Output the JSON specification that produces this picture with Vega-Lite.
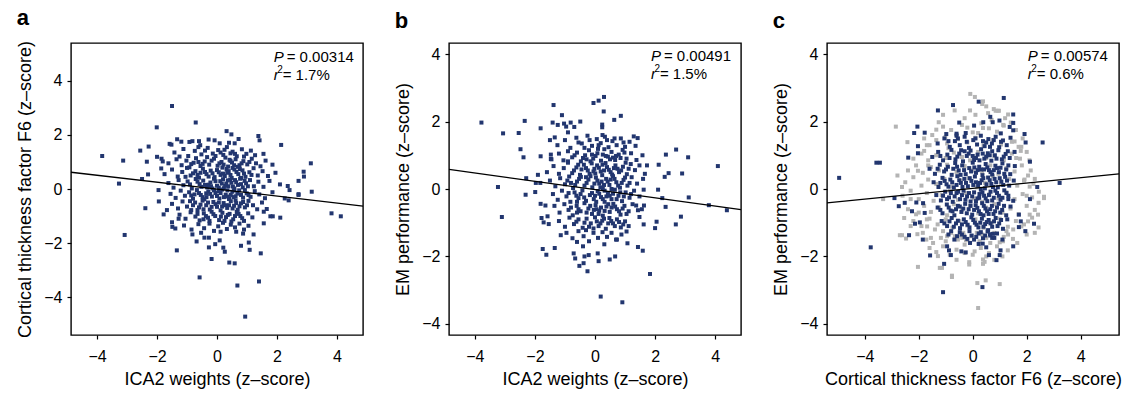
{
"$schema": "https://vega.github.io/schema/vega-lite/v6.json",
"background": "white",
"padding": {"left": 16, "top": 6, "right": 2, "bottom": 4},
"bounds": "flush",
"spacing": 86,
"config": {
  "font": "Liberation Sans",
  "view": {"stroke": "black", "strokeWidth": 1.4},
  "axis": {"domain": false, "grid": false, "tickColor": "black", "tickSize": 4, "tickWidth": 1.2, "labelFontSize": 16, "labelColor": "black", "labelFont": "Liberation Sans", "titleFontSize": 18, "titleFontWeight": "normal", "titleColor": "black", "titleFont": "Liberation Sans"},
  "axisX": {"labelPadding": 9, "titlePadding": 6},
  "axisY": {"labelPadding": 5, "titlePadding": 9},
  "title": {"fontSize": 22, "fontWeight": "bold", "anchor": "start", "frame": "bounds", "color": "black", "font": "Liberation Sans", "offset": 10},
  "text": {"font": "Liberation Sans", "fontSize": 15, "color": "black", "align": "left", "baseline": "alphabetic"}
},
"datasets": {
  "a": [
{"x":-1.5,"y":3.07},{"x":-0.71,"y":2.46},{"x":-2.01,"y":2.28},{"x":0.32,"y":2.14},{"x":0.48,"y":2.02},{"x":1.38,"y":1.96},{"x":1.42,"y":1.8},{"x":2.14,"y":1.63},{"x":-3.83,"y":1.22},{"x":-3.13,"y":1.05},{"x":-2.56,"y":1.42},{"x":-2.28,"y":1.57},{"x":-1.58,"y":1.67},{"x":-1.52,"y":1.64},{"x":-1.33,"y":1.84},{"x":-1.19,"y":1.75},{"x":-0.92,"y":1.74},{"x":-0.82,"y":1.77},{"x":-0.6,"y":1.77},{"x":-0.56,"y":1.62},{"x":-0.28,"y":1.83},{"x":-0.08,"y":1.8},{"x":0.09,"y":1.69},{"x":0.4,"y":1.71},{"x":0.59,"y":1.69},{"x":0.72,"y":1.85},{"x":3.13,"y":0.95},{"x":2.89,"y":0.64},{"x":2.9,"y":0.46},{"x":2.72,"y":0.3},{"x":2.1,"y":0.17},{"x":2.36,"y":0.11},{"x":2.42,"y":-0.04},{"x":2.72,"y":-0.19},{"x":3.16,"y":-0.1},{"x":-3.27,"y":0.2},{"x":-2.5,"y":0.37},{"x":-2.3,"y":0.54},{"x":-2.34,"y":1.01},{"x":-2.0,"y":1.19},{"x":-1.85,"y":1.12},{"x":-1.81,"y":1.02},{"x":-1.86,"y":0.76},{"x":-1.95,"y":-0.04},
{"x":-3.08,"y":-1.7},{"x":-2.39,"y":-0.71},{"x":-1.94,"y":-0.46},{"x":-1.78,"y":-0.94},{"x":-1.67,"y":-0.78},{"x":-1.5,"y":-1.23},{"x":-1.49,"y":-1.4},{"x":-1.39,"y":-1.46},{"x":-1.28,"y":-1.1},{"x":-1.34,"y":-2.27},{"x":-0.82,"y":-1.68},{"x":-0.68,"y":-1.94},{"x":-0.58,"y":-3.27},{"x":-0.27,"y":-2.16},{"x":-0.18,"y":-2.59},{"x":-0.06,"y":-2.04},{"x":0.09,"y":-1.9},{"x":0.26,"y":-2.32},{"x":0.21,"y":-2.17},{"x":0.41,"y":-2.72},{"x":0.59,"y":-2.75},{"x":0.68,"y":-3.57},{"x":0.94,"y":-4.72},{"x":1.4,"y":-3.42},{"x":1.46,"y":-2.38},{"x":1.09,"y":-2.25},{"x":1.06,"y":-1.98},{"x":0.8,"y":-2.1},{"x":1.22,"y":-1.68},{"x":1.56,"y":-1.27},{"x":1.56,"y":-0.84},{"x":1.66,"y":-0.74},{"x":1.78,"y":-1.01},{"x":1.86,"y":-1.01},{"x":2.11,"y":-1.06},{"x":2.39,"y":-0.42},{"x":2.26,"y":-0.35},{"x":2.72,"y":-0.22},{"x":3.82,"y":-0.9},{"x":4.13,"y":-1.01},{"x":0.64,"y":-1.58},{"x":0.87,"y":-1.65},{"x":-0.42,"y":-1.8},{"x":-0.27,"y":-1.8},{"x":-0.53,"y":-1.62},
{"x":-1.42,"y":1.35},{"x":-1.12,"y":1.48},{"x":-0.96,"y":1.22},{"x":-0.74,"y":1.41},{"x":-0.52,"y":1.28},{"x":-0.31,"y":1.52},{"x":-0.14,"y":1.31},{"x":0.04,"y":1.44},{"x":0.21,"y":1.26},{"x":0.33,"y":1.55},{"x":0.52,"y":1.38},{"x":0.66,"y":1.21},{"x":0.83,"y":1.47},{"x":0.98,"y":1.3},{"x":1.13,"y":1.42},{"x":1.27,"y":1.25},{"x":0.45,"y":1.32},{"x":-0.62,"y":1.55},{"x":1.55,"y":1.3},{"x":-1.25,"y":1.2},
{"x":-1.62,"y":0.95},{"x":-1.35,"y":1.1},{"x":-1.18,"y":0.88},{"x":-1.02,"y":1.05},{"x":-0.86,"y":0.92},{"x":-0.7,"y":1.14},{"x":-0.55,"y":0.85},{"x":-0.41,"y":1.02},{"x":-0.26,"y":0.9},{"x":-0.1,"y":1.12},{"x":0.02,"y":0.86},{"x":0.15,"y":1.0},{"x":0.28,"y":1.16},{"x":0.37,"y":0.83},{"x":0.5,"y":0.98},{"x":0.62,"y":1.1},{"x":0.75,"y":0.88},{"x":0.88,"y":1.03},{"x":1.01,"y":0.91},{"x":1.16,"y":1.12},{"x":1.3,"y":0.95},{"x":1.45,"y":0.84},{"x":1.62,"y":1.05},{"x":1.85,"y":0.9},{"x":-0.33,"y":1.18},{"x":0.7,"y":0.82},{"x":0.42,"y":1.08},{"x":-0.92,"y":0.8},
{"x":-1.75,"y":0.55},{"x":-1.5,"y":0.72},{"x":-1.31,"y":0.46},{"x":-1.16,"y":0.63},{"x":-1.0,"y":0.78},{"x":-0.88,"y":0.5},{"x":-0.72,"y":0.66},{"x":-0.6,"y":0.42},{"x":-0.47,"y":0.75},{"x":-0.35,"y":0.55},{"x":-0.21,"y":0.68},{"x":-0.08,"y":0.44},{"x":0.06,"y":0.62},{"x":0.18,"y":0.79},{"x":0.26,"y":0.48},{"x":0.39,"y":0.66},{"x":0.49,"y":0.41},{"x":0.58,"y":0.72},{"x":0.71,"y":0.55},{"x":0.85,"y":0.69},{"x":0.95,"y":0.45},{"x":1.08,"y":0.62},{"x":1.22,"y":0.77},{"x":1.36,"y":0.5},{"x":1.52,"y":0.66},{"x":1.7,"y":0.48},{"x":0.12,"y":0.52},{"x":-0.55,"y":0.6},{"x":0.32,"y":0.74},{"x":0.8,"y":0.41},{"x":-1.05,"y":0.45},{"x":1.95,"y":0.6},
{"x":-1.62,"y":0.22},{"x":-1.45,"y":0.05},{"x":-1.28,"y":0.33},{"x":-1.12,"y":0.14},{"x":-0.98,"y":0.28},{"x":-0.84,"y":0.02},{"x":-0.71,"y":0.37},{"x":-0.58,"y":0.18},{"x":-0.46,"y":0.31},{"x":-0.33,"y":0.06},{"x":-0.22,"y":0.24},{"x":-0.1,"y":0.38},{"x":0.0,"y":0.12},{"x":0.11,"y":0.29},{"x":0.23,"y":0.03},{"x":0.31,"y":0.2},{"x":0.44,"y":0.35},{"x":0.53,"y":0.09},{"x":0.64,"y":0.25},{"x":0.77,"y":0.38},{"x":0.86,"y":0.06},{"x":0.97,"y":0.21},{"x":1.1,"y":0.33},{"x":1.23,"y":0.1},{"x":1.38,"y":0.27},{"x":1.55,"y":0.08},{"x":1.75,"y":0.3},{"x":0.38,"y":0.1},{"x":-0.15,"y":0.02},{"x":0.7,"y":0.15},{"x":-0.4,"y":0.15},{"x":0.2,"y":0.36},
{"x":-1.55,"y":-0.18},{"x":-1.38,"y":-0.33},{"x":-1.21,"y":-0.06},{"x":-1.07,"y":-0.25},{"x":-0.93,"y":-0.12},{"x":-0.8,"y":-0.36},{"x":-0.67,"y":-0.04},{"x":-0.54,"y":-0.22},{"x":-0.42,"y":-0.38},{"x":-0.29,"y":-0.09},{"x":-0.17,"y":-0.28},{"x":-0.05,"y":-0.15},{"x":0.08,"y":-0.35},{"x":0.17,"y":-0.02},{"x":0.29,"y":-0.21},{"x":0.4,"y":-0.37},{"x":0.51,"y":-0.1},{"x":0.62,"y":-0.27},{"x":0.74,"y":-0.05},{"x":0.87,"y":-0.32},{"x":0.99,"y":-0.16},{"x":1.12,"y":-0.29},{"x":1.26,"y":-0.08},{"x":1.41,"y":-0.2},{"x":1.6,"y":-0.34},{"x":1.85,"y":-0.12},{"x":0.35,"y":-0.05},{"x":-0.75,"y":-0.2},{"x":0.05,"y":-0.08},{"x":-0.35,"y":-0.3},{"x":0.55,"y":-0.3},
{"x":-1.5,"y":-0.55},{"x":-1.3,"y":-0.72},{"x":-1.15,"y":-0.46},{"x":-1.0,"y":-0.65},{"x":-0.86,"y":-0.78},{"x":-0.73,"y":-0.5},{"x":-0.6,"y":-0.68},{"x":-0.48,"y":-0.43},{"x":-0.36,"y":-0.6},{"x":-0.24,"y":-0.76},{"x":-0.12,"y":-0.48},{"x":0.0,"y":-0.66},{"x":0.12,"y":-0.79},{"x":0.22,"y":-0.52},{"x":0.34,"y":-0.7},{"x":0.46,"y":-0.45},{"x":0.57,"y":-0.62},{"x":0.69,"y":-0.77},{"x":0.8,"y":-0.53},{"x":0.93,"y":-0.68},{"x":1.05,"y":-0.44},{"x":1.2,"y":-0.6},{"x":1.34,"y":-0.75},{"x":1.5,"y":-0.5},{"x":0.28,"y":-0.6},{"x":-0.45,"y":-0.75},{"x":0.62,"y":-0.42},{"x":-0.9,"y":-0.45},
{"x":-1.25,"y":-0.95},{"x":-1.05,"y":-1.1},{"x":-0.88,"y":-0.86},{"x":-0.72,"y":-1.02},{"x":-0.58,"y":-1.16},{"x":-0.44,"y":-0.9},{"x":-0.3,"y":-1.06},{"x":-0.18,"y":-0.84},{"x":-0.06,"y":-1.0},{"x":0.07,"y":-1.15},{"x":0.18,"y":-0.88},{"x":0.3,"y":-1.04},{"x":0.42,"y":-0.92},{"x":0.54,"y":-1.12},{"x":0.66,"y":-0.85},{"x":0.78,"y":-1.0},{"x":0.9,"y":-1.18},{"x":1.04,"y":-0.9},{"x":1.18,"y":-1.05},{"x":0.25,"y":-1.18},{"x":-0.45,"y":-1.12},
{"x":-1.1,"y":-1.35},{"x":-0.85,"y":-1.5},{"x":-0.62,"y":-1.3},{"x":-0.43,"y":-1.45},{"x":-0.25,"y":-1.28},{"x":-0.1,"y":-1.55},{"x":0.04,"y":-1.38},{"x":0.2,"y":-1.25},{"x":0.33,"y":-1.48},{"x":0.46,"y":-1.32},{"x":0.6,"y":-1.42},{"x":0.75,"y":-1.28},{"x":0.9,"y":-1.5},{"x":1.05,"y":-1.36},{"x":0.12,"y":-1.58},
{"x":-0.78,"y":0.97},{"x":-0.48,"y":0.93},{"x":-0.18,"y":1.05},{"x":0.08,"y":0.95},{"x":0.22,"y":0.9},{"x":0.45,"y":1.04},{"x":0.57,"y":0.88},{"x":0.82,"y":0.95},{"x":1.08,"y":1.0},{"x":-0.62,"y":1.0},
{"x":-0.8,"y":0.58},{"x":-0.4,"y":0.63},{"x":-0.28,"y":0.46},{"x":-0.15,"y":0.58},{"x":0.0,"y":0.7},{"x":0.2,"y":0.57},{"x":0.34,"y":0.6},{"x":0.45,"y":0.52},{"x":0.65,"y":0.63},{"x":0.76,"y":0.74},{"x":0.9,"y":0.57},{"x":1.15,"y":0.52},{"x":-0.65,"y":0.52},{"x":0.52,"y":0.78},
{"x":-0.9,"y":0.17},{"x":-0.65,"y":0.27},{"x":-0.52,"y":0.08},{"x":-0.28,"y":0.16},{"x":-0.05,"y":0.29},{"x":0.06,"y":0.05},{"x":0.16,"y":0.2},{"x":0.27,"y":0.12},{"x":0.48,"y":0.23},{"x":0.6,"y":0.33},{"x":0.58,"y":0.02},{"x":0.8,"y":0.18},{"x":0.92,"y":0.3},{"x":1.03,"y":0.1},{"x":-0.2,"y":0.1},{"x":0.36,"y":0.32},
{"x":-0.86,"y":-0.24},{"x":-0.6,"y":-0.15},{"x":-0.48,"y":-0.3},{"x":-0.23,"y":-0.18},{"x":-0.1,"y":-0.05},{"x":0.0,"y":-0.26},{"x":0.12,"y":-0.15},{"x":0.23,"y":-0.3},{"x":0.46,"y":-0.22},{"x":0.57,"y":-0.05},{"x":0.68,"y":-0.17},{"x":0.8,"y":-0.22},{"x":0.93,"y":-0.04},{"x":1.05,"y":-0.22},{"x":0.34,"y":-0.28},{"x":-0.36,"y":-0.16},
{"x":-0.8,"y":-0.6},{"x":-0.55,"y":-0.58},{"x":-0.3,"y":-0.5},{"x":-0.18,"y":-0.66},{"x":-0.05,"y":-0.56},{"x":0.06,"y":-0.5},{"x":0.17,"y":-0.65},{"x":0.4,"y":-0.6},{"x":0.52,"y":-0.72},{"x":0.64,"y":-0.52},{"x":0.75,"y":-0.64},{"x":0.87,"y":-0.48},{"x":1.0,"y":-0.6},{"x":-0.65,"y":-0.78},
{"x":-0.65,"y":-0.92},{"x":-0.37,"y":-1.0},{"x":-0.12,"y":-0.93},{"x":0.13,"y":-1.02},{"x":0.36,"y":-0.96},{"x":0.6,"y":-1.0},{"x":0.72,"y":-0.92},{"x":0.84,"y":-1.08},{"x":0.48,"y":-1.2},{"x":-0.25,"y":-1.18},
{"x":-0.4,"y":1.42},{"x":-0.05,"y":1.22},{"x":0.12,"y":1.35},{"x":0.6,"y":1.3},{"x":0.9,"y":1.2},{"x":0.25,"y":1.45}
  ],
  "b": [
{"x":0.3,"y":2.73},{"x":0.12,"y":2.62},{"x":-0.05,"y":2.55},{"x":-1.38,"y":2.49},{"x":0.29,"y":2.3},{"x":0.86,"y":2.17},{"x":0.64,"y":2.05},{"x":-1.1,"y":2.19},{"x":-3.78,"y":1.97},{"x":-2.34,"y":2.02},{"x":-1.41,"y":1.97},{"x":-1.24,"y":1.9},{"x":-1.03,"y":1.94},{"x":-0.96,"y":1.85},{"x":-0.81,"y":1.97},{"x":-0.49,"y":2.0},{"x":-1.81,"y":1.8},{"x":-3.06,"y":1.65},{"x":-2.54,"y":1.66},{"x":-1.34,"y":1.53},{"x":-0.9,"y":1.68},{"x":-0.69,"y":1.84},{"x":0.24,"y":1.91},{"x":0.24,"y":1.83},{"x":1.29,"y":1.56},{"x":1.42,"y":1.51},{"x":-2.48,"y":1.18},{"x":-2.38,"y":0.94},{"x":-1.81,"y":0.97},{"x":-1.47,"y":1.02},{"x":-1.47,"y":0.89},{"x":2.36,"y":1.02},{"x":2.7,"y":1.17},{"x":3.1,"y":0.94},{"x":4.09,"y":0.68},{"x":2.12,"y":0.72},{"x":1.73,"y":0.7},{"x":2.45,"y":0.47},{"x":2.32,"y":0.36},{"x":2.9,"y":0.46},{"x":-3.23,"y":0.06},{"x":-2.29,"y":0.32},{"x":-1.9,"y":0.42},{"x":-1.97,"y":0.18},{"x":-1.82,"y":0.18},{"x":-2.31,"y":-0.17},{"x":-1.99,"y":-0.09},{"x":2.1,"y":-0.02},{"x":3.12,"y":-0.25},{"x":1.62,"y":-0.02},
{"x":-3.1,"y":-0.83},{"x":-1.81,"y":-0.44},{"x":-1.65,"y":-0.49},{"x":-1.78,"y":-0.86},{"x":-1.58,"y":-0.81},{"x":-1.71,"y":-0.99},{"x":-1.54,"y":-1.04},{"x":-1.14,"y":-1.37},{"x":-1.74,"y":-1.78},{"x":-1.62,"y":-1.95},{"x":-1.34,"y":-1.75},{"x":-0.6,"y":-1.57},{"x":-0.4,"y":-1.7},{"x":-0.71,"y":-1.91},{"x":-0.66,"y":-2.06},{"x":-0.52,"y":-2.28},{"x":-0.38,"y":-2.2},{"x":-0.35,"y":-2.0},{"x":-0.25,"y":-2.44},{"x":-0.21,"y":-1.96},{"x":0.09,"y":-1.91},{"x":0.12,"y":-2.14},{"x":0.49,"y":-2.09},{"x":0.67,"y":-2.0},{"x":0.31,"y":-1.64},{"x":0.73,"y":-1.5},{"x":1.08,"y":-1.61},{"x":1.43,"y":-1.72},{"x":1.59,"y":-1.83},{"x":1.83,"y":-2.52},{"x":0.19,"y":-3.19},{"x":0.91,"y":-3.36},{"x":1.62,"y":-1.05},{"x":2.0,"y":-1.16},{"x":2.05,"y":-0.97},{"x":2.69,"y":-1.05},{"x":2.86,"y":-0.82},{"x":1.48,"y":-0.83},{"x":1.63,"y":-0.49},{"x":1.56,"y":-0.6},{"x":2.24,"y":-0.27},{"x":2.35,"y":-0.53},{"x":3.79,"y":-0.48},{"x":4.39,"y":-0.63},{"x":1.37,"y":-0.49},{"x":1.43,"y":-0.63},
{"x":-1.25,"y":1.3},{"x":-1.0,"y":1.45},{"x":-0.82,"y":1.22},{"x":-0.62,"y":1.52},{"x":-0.44,"y":1.35},{"x":-0.25,"y":1.58},{"x":-0.1,"y":1.28},{"x":0.06,"y":1.48},{"x":0.19,"y":1.36},{"x":0.33,"y":1.55},{"x":0.45,"y":1.24},{"x":0.58,"y":1.42},{"x":0.72,"y":1.3},{"x":0.86,"y":1.5},{"x":1.0,"y":1.25},{"x":1.15,"y":1.4},{"x":-0.35,"y":1.22},{"x":0.25,"y":1.6},{"x":1.35,"y":1.28},{"x":-1.5,"y":1.45},
{"x":-1.45,"y":0.88},{"x":-1.2,"y":1.05},{"x":-1.05,"y":0.85},{"x":-0.9,"y":1.12},{"x":-0.76,"y":0.94},{"x":-0.6,"y":1.08},{"x":-0.47,"y":0.82},{"x":-0.33,"y":1.0},{"x":-0.2,"y":1.15},{"x":-0.06,"y":0.9},{"x":0.08,"y":1.06},{"x":0.2,"y":0.84},{"x":0.31,"y":1.18},{"x":0.43,"y":0.96},{"x":0.55,"y":1.1},{"x":0.67,"y":0.86},{"x":0.79,"y":1.02},{"x":0.92,"y":1.16},{"x":1.05,"y":0.9},{"x":1.2,"y":1.06},{"x":1.38,"y":0.86},{"x":1.58,"y":1.0},{"x":-0.15,"y":0.82},{"x":0.36,"y":0.98},{"x":0.6,"y":0.93},{"x":-0.9,"y":0.82},{"x":0.1,"y":1.19},
{"x":-1.6,"y":0.5},{"x":-1.38,"y":0.68},{"x":-1.2,"y":0.45},{"x":-1.04,"y":0.62},{"x":-0.9,"y":0.78},{"x":-0.76,"y":0.47},{"x":-0.62,"y":0.64},{"x":-0.5,"y":0.42},{"x":-0.37,"y":0.72},{"x":-0.24,"y":0.55},{"x":-0.11,"y":0.76},{"x":0.01,"y":0.46},{"x":0.13,"y":0.63},{"x":0.24,"y":0.41},{"x":0.35,"y":0.77},{"x":0.46,"y":0.57},{"x":0.57,"y":0.43},{"x":0.68,"y":0.7},{"x":0.8,"y":0.5},{"x":0.93,"y":0.66},{"x":1.06,"y":0.44},{"x":1.19,"y":0.74},{"x":1.33,"y":0.56},{"x":1.48,"y":0.7},{"x":1.66,"y":0.45},{"x":0.3,"y":0.55},{"x":-0.45,"y":0.58},{"x":0.75,"y":0.6},{"x":-0.02,"y":0.6},{"x":1.02,"y":0.78},
{"x":-1.5,"y":0.25},{"x":-1.32,"y":0.08},{"x":-1.16,"y":0.32},{"x":-1.0,"y":0.14},{"x":-0.86,"y":0.37},{"x":-0.73,"y":0.03},{"x":-0.6,"y":0.22},{"x":-0.47,"y":0.36},{"x":-0.35,"y":0.1},{"x":-0.22,"y":0.28},{"x":-0.09,"y":0.05},{"x":0.03,"y":0.34},{"x":0.14,"y":0.16},{"x":0.26,"y":0.02},{"x":0.37,"y":0.3},{"x":0.48,"y":0.12},{"x":0.6,"y":0.38},{"x":0.71,"y":0.2},{"x":0.83,"y":0.04},{"x":0.95,"y":0.27},{"x":1.08,"y":0.1},{"x":1.22,"y":0.35},{"x":1.4,"y":0.16},{"x":1.6,"y":0.3},{"x":0.22,"y":0.22},{"x":-0.3,"y":0.35},{"x":0.55,"y":0.0},{"x":-0.8,"y":0.18},
{"x":-1.4,"y":-0.15},{"x":-1.24,"y":-0.32},{"x":-1.1,"y":-0.05},{"x":-0.95,"y":-0.22},{"x":-0.82,"y":-0.38},{"x":-0.68,"y":-0.1},{"x":-0.55,"y":-0.27},{"x":-0.42,"y":-0.04},{"x":-0.3,"y":-0.35},{"x":-0.17,"y":-0.18},{"x":-0.04,"y":-0.3},{"x":0.09,"y":-0.06},{"x":0.2,"y":-0.24},{"x":0.32,"y":-0.38},{"x":0.43,"y":-0.12},{"x":0.55,"y":-0.3},{"x":0.66,"y":-0.02},{"x":0.78,"y":-0.2},{"x":0.9,"y":-0.36},{"x":1.02,"y":-0.1},{"x":1.15,"y":-0.26},{"x":1.3,"y":-0.05},{"x":1.48,"y":-0.22},{"x":0.0,"y":-0.2},{"x":0.38,"y":-0.22},{"x":-0.6,"y":-0.38},
{"x":-1.35,"y":-0.5},{"x":-1.18,"y":-0.7},{"x":-1.02,"y":-0.45},{"x":-0.88,"y":-0.62},{"x":-0.74,"y":-0.78},{"x":-0.61,"y":-0.5},{"x":-0.48,"y":-0.66},{"x":-0.35,"y":-0.42},{"x":-0.22,"y":-0.58},{"x":-0.1,"y":-0.74},{"x":0.02,"y":-0.48},{"x":0.14,"y":-0.64},{"x":0.26,"y":-0.79},{"x":0.38,"y":-0.52},{"x":0.49,"y":-0.68},{"x":0.61,"y":-0.44},{"x":0.73,"y":-0.6},{"x":0.85,"y":-0.76},{"x":0.98,"y":-0.5},{"x":1.12,"y":-0.66},{"x":1.25,"y":-0.45},{"x":0.05,"y":-0.6},{"x":0.55,"y":-0.55},{"x":-0.6,"y":-0.7},
{"x":-1.2,"y":-0.95},{"x":-1.0,"y":-1.12},{"x":-0.85,"y":-0.85},{"x":-0.7,"y":-1.04},{"x":-0.55,"y":-0.9},{"x":-0.41,"y":-1.15},{"x":-0.28,"y":-0.88},{"x":-0.14,"y":-1.02},{"x":0.0,"y":-0.84},{"x":0.12,"y":-1.1},{"x":0.24,"y":-0.94},{"x":0.36,"y":-1.18},{"x":0.48,"y":-0.86},{"x":0.6,"y":-1.02},{"x":0.73,"y":-0.9},{"x":0.86,"y":-1.14},{"x":1.0,"y":-0.96},{"x":1.12,"y":-1.1},{"x":-0.05,"y":-1.17},{"x":0.44,"y":-1.02},
{"x":-0.95,"y":-1.3},{"x":-0.75,"y":-1.46},{"x":-0.55,"y":-1.25},{"x":-0.38,"y":-1.4},{"x":-0.2,"y":-1.55},{"x":-0.05,"y":-1.3},{"x":0.1,"y":-1.45},{"x":0.25,"y":-1.28},{"x":0.4,"y":-1.42},{"x":0.55,"y":-1.3},{"x":0.7,"y":-1.5},{"x":0.88,"y":-1.35},{"x":1.05,"y":-1.26},{"x":-0.3,"y":-1.22},
{"x":-0.68,"y":1.0},{"x":-0.4,"y":0.92},{"x":-0.1,"y":1.02},{"x":0.02,"y":0.98},{"x":0.26,"y":1.02},{"x":0.5,"y":0.88},{"x":0.7,"y":0.98},{"x":0.85,"y":0.92},{"x":0.98,"y":1.08},{"x":-0.28,"y":0.88},
{"x":-0.7,"y":0.55},{"x":-0.56,"y":0.72},{"x":-0.3,"y":0.62},{"x":-0.18,"y":0.45},{"x":0.07,"y":0.7},{"x":0.19,"y":0.52},{"x":0.4,"y":0.65},{"x":0.52,"y":0.5},{"x":0.63,"y":0.62},{"x":0.87,"y":0.55},{"x":1.12,"y":0.6},{"x":0.25,"y":0.72},{"x":-0.05,"y":0.52},
{"x":-0.92,"y":0.25},{"x":-0.66,"y":0.12},{"x":-0.53,"y":0.3},{"x":-0.28,"y":0.18},{"x":-0.15,"y":0.38},{"x":-0.02,"y":0.16},{"x":0.08,"y":0.25},{"x":0.3,"y":0.12},{"x":0.42,"y":0.22},{"x":0.65,"y":0.3},{"x":0.77,"y":0.1},{"x":0.89,"y":0.18},{"x":1.0,"y":0.34},{"x":1.15,"y":0.18},{"x":0.18,"y":0.05},{"x":0.52,"y":0.28},
{"x":-0.88,"y":-0.12},{"x":-0.62,"y":-0.2},{"x":-0.48,"y":-0.15},{"x":-0.36,"y":-0.25},{"x":-0.1,"y":-0.12},{"x":0.04,"y":-0.38},{"x":0.14,"y":-0.14},{"x":0.26,"y":-0.3},{"x":0.49,"y":-0.2},{"x":0.6,"y":-0.14},{"x":0.72,"y":-0.3},{"x":0.84,"y":-0.1},{"x":0.96,"y":-0.22},{"x":1.2,"y":-0.15},{"x":0.32,"y":-0.05},
{"x":-0.8,"y":-0.55},{"x":-0.55,"y":-0.6},{"x":-0.28,"y":-0.7},{"x":-0.16,"y":-0.5},{"x":-0.04,"y":-0.62},{"x":0.2,"y":-0.55},{"x":0.32,"y":-0.65},{"x":0.44,"y":-0.45},{"x":0.67,"y":-0.52},{"x":0.8,"y":-0.66},{"x":0.92,"y":-0.58},{"x":1.05,"y":-0.74},{"x":0.12,"y":-0.74},
{"x":-0.62,"y":-0.97},{"x":-0.35,"y":-1.0},{"x":-0.2,"y":-1.12},{"x":0.06,"y":-0.96},{"x":0.18,"y":-1.02},{"x":0.3,"y":-0.88},{"x":0.54,"y":-0.95},{"x":0.66,"y":-1.1},{"x":0.8,"y":-0.98},{"x":0.94,"y":-1.05},
{"x":-0.55,"y":1.38},{"x":-0.18,"y":1.45},{"x":0.12,"y":1.3},{"x":0.4,"y":1.45},{"x":0.65,"y":1.5},{"x":0.95,"y":1.38}
  ],
  "cg": [
{"x":-0.09,"y":2.82},{"x":0.08,"y":2.73},{"x":0.38,"y":2.6},{"x":0.35,"y":2.52},{"x":0.85,"y":2.32},{"x":0.97,"y":2.32},{"x":1.31,"y":2.21},{"x":-0.1,"y":2.33},{"x":-0.67,"y":2.33},{"x":-1.1,"y":2.2},{"x":-1.26,"y":1.98},{"x":-2.85,"y":1.85},{"x":-1.35,"y":1.76},{"x":-2.42,"y":1.39},{"x":-1.8,"y":1.13},{"x":-2.79,"y":0.4},{"x":-2.62,"y":0.06},{"x":-2.03,"y":0.54},{"x":-1.65,"y":0.7},{"x":1.61,"y":0.92},{"x":1.78,"y":1.13},{"x":1.55,"y":1.41},{"x":1.8,"y":1.25},{"x":2.05,"y":0.4},{"x":1.92,"y":0.28},{"x":2.11,"y":0.07},{"x":2.64,"y":-0.23},{"x":1.41,"y":1.97},{"x":1.13,"y":1.9},{"x":0.57,"y":2.25},{"x":0.78,"y":2.37},{"x":0.93,"y":2.32},{"x":-0.9,"y":1.21},{"x":-0.6,"y":1.6},{"x":-1.02,"y":1.53},{"x":0.38,"y":1.81},{"x":0.2,"y":1.66},
{"x":-3.32,"y":-0.3},{"x":-2.54,"y":-0.86},{"x":-2.7,"y":-1.37},{"x":-2.62,"y":-1.37},{"x":-2.47,"y":-1.47},{"x":-2.05,"y":-1.34},{"x":-1.69,"y":-1.11},{"x":-1.72,"y":-1.5},{"x":-2.03,"y":-2.31},{"x":-1.47,"y":-1.6},{"x":-1.35,"y":-1.87},{"x":-1.29,"y":-1.99},{"x":-1.22,"y":-2.34},{"x":-1.14,"y":-2.34},{"x":-0.77,"y":-2.57},{"x":-0.77,"y":-2.61},{"x":-0.13,"y":-2.17},{"x":-0.13,"y":-2.24},{"x":0.38,"y":-2.09},{"x":0.38,"y":-2.22},{"x":0.44,"y":-2.16},{"x":0.17,"y":-2.79},{"x":0.48,"y":-2.71},{"x":1.0,"y":-2.82},{"x":0.2,"y":-3.53},{"x":-1.18,"y":-1.45},{"x":-0.66,"y":-1.4},{"x":-0.48,"y":-1.38},{"x":-0.39,"y":-1.45},{"x":-0.32,"y":-1.38},{"x":0.07,"y":-1.85},{"x":1.12,"y":-1.55},{"x":1.31,"y":-1.35},{"x":1.49,"y":-1.48},{"x":1.65,"y":-1.6},{"x":1.8,"y":-1.11},{"x":2.44,"y":-1.14},{"x":2.44,"y":-0.41},{"x":2.64,"y":-0.27},{"x":2.42,"y":-0.76},{"x":2.05,"y":-0.96},{"x":2.11,"y":-0.76},
{"x":-0.8,"y":1.75},{"x":-0.4,"y":1.9},{"x":0.0,"y":1.68},{"x":0.32,"y":1.95},{"x":0.6,"y":1.8},{"x":0.9,"y":1.7},{"x":1.15,"y":1.88},{"x":-0.2,"y":1.82},{"x":0.7,"y":2.05},{"x":1.2,"y":2.1},
{"x":-1.6,"y":1.3},{"x":-1.35,"y":1.45},{"x":-0.95,"y":1.35},{"x":-0.55,"y":1.48},{"x":-0.2,"y":1.38},{"x":0.1,"y":1.52},{"x":0.4,"y":1.3},{"x":0.75,"y":1.45},{"x":1.05,"y":1.32},{"x":1.45,"y":1.4},{"x":1.7,"y":1.25},{"x":-1.8,"y":1.5},
{"x":-2.2,"y":0.9},{"x":-1.9,"y":1.05},{"x":-1.65,"y":0.85},{"x":-1.35,"y":1.0},{"x":-1.0,"y":0.92},{"x":-0.7,"y":1.08},{"x":-0.4,"y":0.95},{"x":-0.1,"y":0.85},{"x":0.2,"y":1.1},{"x":0.5,"y":0.92},{"x":0.8,"y":0.98},{"x":1.15,"y":0.85},{"x":1.45,"y":1.05},{"x":1.75,"y":0.9},{"x":2.0,"y":1.1},
{"x":-2.4,"y":0.55},{"x":-2.1,"y":0.7},{"x":-1.85,"y":0.48},{"x":-1.55,"y":0.65},{"x":-1.25,"y":0.55},{"x":-0.95,"y":0.72},{"x":-0.6,"y":0.5},{"x":-0.3,"y":0.68},{"x":0.0,"y":0.55},{"x":0.35,"y":0.5},{"x":0.65,"y":0.7},{"x":0.95,"y":0.45},{"x":1.25,"y":0.62},{"x":1.55,"y":0.52},{"x":1.82,"y":0.7},{"x":2.15,"y":0.55},
{"x":-2.5,"y":0.2},{"x":-2.2,"y":0.35},{"x":-1.9,"y":0.1},{"x":-1.65,"y":0.28},{"x":-1.35,"y":0.15},{"x":-1.05,"y":0.3},{"x":-0.75,"y":0.08},{"x":-0.45,"y":0.25},{"x":-0.15,"y":0.32},{"x":0.15,"y":0.05},{"x":0.45,"y":0.18},{"x":0.75,"y":0.38},{"x":1.05,"y":0.12},{"x":1.35,"y":0.3},{"x":1.65,"y":0.1},{"x":1.9,"y":0.25},{"x":2.25,"y":0.15},
{"x":-2.6,"y":-0.2},{"x":-2.3,"y":-0.05},{"x":-2.0,"y":-0.3},{"x":-1.7,"y":-0.12},{"x":-1.45,"y":-0.35},{"x":-1.15,"y":-0.18},{"x":-0.85,"y":-0.05},{"x":-0.55,"y":-0.32},{"x":-0.25,"y":-0.12},{"x":0.05,"y":-0.28},{"x":0.35,"y":-0.38},{"x":0.62,"y":-0.15},{"x":0.95,"y":-0.28},{"x":1.25,"y":-0.1},{"x":1.55,"y":-0.3},{"x":1.85,"y":-0.15},{"x":2.2,"y":-0.25},{"x":2.45,"y":-0.08},
{"x":-2.4,"y":-0.6},{"x":-2.1,"y":-0.75},{"x":-1.8,"y":-0.5},{"x":-1.55,"y":-0.68},{"x":-1.25,"y":-0.55},{"x":-0.95,"y":-0.78},{"x":-0.7,"y":-0.45},{"x":-0.4,"y":-0.62},{"x":-0.1,"y":-0.5},{"x":0.2,"y":-0.72},{"x":0.5,"y":-0.55},{"x":0.8,"y":-0.45},{"x":1.1,"y":-0.7},{"x":1.4,"y":-0.58},{"x":1.7,"y":-0.75},{"x":2.0,"y":-0.5},{"x":2.3,"y":-0.62},
{"x":-2.2,"y":-0.95},{"x":-1.9,"y":-1.1},{"x":-1.6,"y":-0.88},{"x":-1.3,"y":-1.05},{"x":-1.0,"y":-0.9},{"x":-0.75,"y":-1.15},{"x":-0.5,"y":-0.95},{"x":-0.2,"y":-1.08},{"x":0.1,"y":-0.9},{"x":0.4,"y":-1.15},{"x":0.7,"y":-1.0},{"x":1.0,"y":-0.88},{"x":1.3,"y":-1.12},{"x":1.6,"y":-0.95},{"x":1.9,"y":-1.05},{"x":2.2,"y":-0.85},
{"x":-1.85,"y":-1.3},{"x":-1.55,"y":-1.45},{"x":-1.0,"y":-1.55},{"x":-0.8,"y":-1.3},{"x":-0.55,"y":-1.5},{"x":-0.25,"y":-1.52},{"x":-0.05,"y":-1.4},{"x":0.25,"y":-1.55},{"x":0.5,"y":-1.45},{"x":0.8,"y":-1.3},{"x":1.0,"y":-1.58},{"x":1.25,"y":-1.25},{"x":2.0,"y":-1.35},
{"x":-1.1,"y":-1.7},{"x":-0.6,"y":-1.8},{"x":-0.3,"y":-1.65},{"x":0.0,"y":-1.95},{"x":0.3,"y":-1.75},{"x":0.6,"y":-1.9},{"x":0.9,"y":-1.7},{"x":-0.85,"y":-1.95},{"x":0.5,"y":-2.0},{"x":1.3,"y":-1.82},
{"x":-1.4,"y":-1.2},{"x":-1.1,"y":-1.25},{"x":-0.95,"y":-1.4},{"x":-0.35,"y":-1.3},{"x":0.15,"y":-1.3},{"x":0.35,"y":-1.35},{"x":0.65,"y":-1.6},{"x":1.15,"y":-1.42},{"x":1.5,"y":-1.2},{"x":-1.7,"y":-0.9},{"x":-2.0,"y":-0.7},{"x":-2.3,"y":-0.3},{"x":2.0,"y":-0.2},{"x":2.3,"y":0.3},{"x":2.1,"y":0.85},{"x":1.85,"y":1.5},{"x":1.6,"y":1.75},{"x":-1.5,"y":1.6},{"x":-1.1,"y":1.85},{"x":-0.3,"y":2.1},{"x":0.1,"y":2.2},{"x":0.5,"y":2.45},{"x":-0.6,"y":-2.1},{"x":-0.3,"y":-1.9},{"x":0.8,"y":-2.1},{"x":1.1,"y":-2.0},{"x":-1.6,"y":-1.75},{"x":-2.3,"y":-1.1},{"x":2.3,"y":-1.3},{"x":-1.7,"y":1.3}
  ],
  "cn": [
{"x":-4.95,"y":0.33},{"x":-3.57,"y":0.78},{"x":-3.44,"y":0.78},{"x":-2.39,"y":0.93},{"x":-2.05,"y":1.85},{"x":-2.17,"y":1.66},{"x":-1.78,"y":1.67},{"x":-2.03,"y":1.27},{"x":-2.03,"y":1.06},{"x":-1.29,"y":2.33},{"x":-0.73,"y":2.49},{"x":-0.5,"y":1.97},{"x":-0.98,"y":1.63},{"x":-0.6,"y":1.64},{"x":0.22,"y":2.59},{"x":1.15,"y":2.7},{"x":1.5,"y":2.21},{"x":1.5,"y":1.96},{"x":1.5,"y":1.74},{"x":1.37,"y":1.84},{"x":1.92,"y":1.63},{"x":1.96,"y":1.38},{"x":2.59,"y":1.38},{"x":2.12,"y":0.81},{"x":2.39,"y":0.06},{"x":3.22,"y":0.18},{"x":0.65,"y":2.14},{"x":0.39,"y":1.98},{"x":0.74,"y":1.98},{"x":0.99,"y":2.03},{"x":-0.26,"y":1.66},{"x":0.05,"y":1.88},{"x":1.04,"y":1.65},
{"x":-3.78,"y":-1.73},{"x":-2.9,"y":-0.27},{"x":-2.74,"y":-0.51},{"x":-2.52,"y":-0.41},{"x":-2.36,"y":-1.37},{"x":-2.14,"y":-1.03},{"x":-1.96,"y":-0.99},{"x":-2.25,"y":-0.66},{"x":-2.09,"y":-0.4},{"x":-1.84,"y":-0.42},{"x":-1.78,"y":-0.71},{"x":-1.85,"y":-1.5},{"x":-1.58,"y":-1.97},{"x":-1.06,"y":-2.22},{"x":-1.1,"y":-3.06},{"x":-0.95,"y":-1.7},{"x":-0.88,"y":-1.82},{"x":-0.81,"y":-1.96},{"x":-0.42,"y":-1.85},{"x":-0.26,"y":-1.88},{"x":-0.1,"y":-1.6},{"x":0.22,"y":-1.63},{"x":0.37,"y":-1.62},{"x":0.5,"y":-1.73},{"x":0.6,"y":-1.96},{"x":0.88,"y":-2.11},{"x":1.0,"y":-1.96},{"x":1.03,"y":-1.82},{"x":0.36,"y":-2.91},{"x":1.5,"y":-1.7},{"x":1.95,"y":-1.25},{"x":2.27,"y":-1.03},{"x":1.71,"y":-1.13},{"x":1.71,"y":-0.76},{"x":1.78,"y":-0.96},{"x":2.12,"y":-0.3},{"x":1.32,"y":-0.3},{"x":0.65,"y":-1.38},{"x":0.57,"y":-1.22},{"x":0.75,"y":-1.33},
{"x":-1.3,"y":1.35},{"x":-1.05,"y":1.5},{"x":-0.85,"y":1.25},{"x":-0.66,"y":1.42},{"x":-0.48,"y":1.3},{"x":-0.3,"y":1.55},{"x":-0.14,"y":1.22},{"x":0.02,"y":1.45},{"x":0.16,"y":1.32},{"x":0.3,"y":1.58},{"x":0.44,"y":1.27},{"x":0.58,"y":1.48},{"x":0.71,"y":1.35},{"x":0.85,"y":1.55},{"x":0.98,"y":1.24},{"x":1.12,"y":1.44},{"x":1.26,"y":1.3},{"x":-0.6,"y":1.58},{"x":0.5,"y":1.38},{"x":1.4,"y":1.52},
{"x":-1.5,"y":0.95},{"x":-1.28,"y":1.1},{"x":-1.1,"y":0.85},{"x":-0.94,"y":1.02},{"x":-0.79,"y":1.16},{"x":-0.64,"y":0.88},{"x":-0.5,"y":1.05},{"x":-0.36,"y":0.82},{"x":-0.22,"y":0.98},{"x":-0.08,"y":1.14},{"x":0.05,"y":0.86},{"x":0.18,"y":1.02},{"x":0.31,"y":1.18},{"x":0.43,"y":0.9},{"x":0.56,"y":1.06},{"x":0.69,"y":0.84},{"x":0.82,"y":1.0},{"x":0.95,"y":1.15},{"x":1.08,"y":0.88},{"x":1.22,"y":1.04},{"x":1.37,"y":0.92},{"x":1.55,"y":1.1},{"x":-0.3,"y":1.12},{"x":0.25,"y":0.85},{"x":0.72,"y":1.12},
{"x":-1.6,"y":0.6},{"x":-1.4,"y":0.45},{"x":-1.22,"y":0.72},{"x":-1.06,"y":0.52},{"x":-0.92,"y":0.66},{"x":-0.78,"y":0.42},{"x":-0.65,"y":0.77},{"x":-0.52,"y":0.55},{"x":-0.39,"y":0.7},{"x":-0.26,"y":0.44},{"x":-0.13,"y":0.62},{"x":0.0,"y":0.78},{"x":0.12,"y":0.48},{"x":0.24,"y":0.66},{"x":0.36,"y":0.41},{"x":0.48,"y":0.74},{"x":0.6,"y":0.56},{"x":0.72,"y":0.43},{"x":0.84,"y":0.69},{"x":0.97,"y":0.5},{"x":1.1,"y":0.76},{"x":1.24,"y":0.58},{"x":1.39,"y":0.44},{"x":1.56,"y":0.68},{"x":0.3,"y":0.58},{"x":-0.45,"y":0.42},{"x":0.9,"y":0.62},
{"x":-1.45,"y":0.2},{"x":-1.27,"y":0.06},{"x":-1.12,"y":0.33},{"x":-0.97,"y":0.14},{"x":-0.83,"y":0.28},{"x":-0.7,"y":0.04},{"x":-0.57,"y":0.38},{"x":-0.44,"y":0.18},{"x":-0.31,"y":0.3},{"x":-0.18,"y":0.08},{"x":-0.05,"y":0.24},{"x":0.08,"y":0.37},{"x":0.2,"y":0.1},{"x":0.33,"y":0.26},{"x":0.45,"y":0.02},{"x":0.57,"y":0.34},{"x":0.69,"y":0.15},{"x":0.81,"y":0.3},{"x":0.93,"y":0.05},{"x":1.06,"y":0.22},{"x":1.2,"y":0.36},{"x":1.35,"y":0.1},{"x":1.52,"y":0.25},{"x":0.12,"y":0.2},{"x":-0.6,"y":0.12},
{"x":-1.35,"y":-0.18},{"x":-1.18,"y":-0.34},{"x":-1.02,"y":-0.08},{"x":-0.88,"y":-0.25},{"x":-0.74,"y":-0.38},{"x":-0.6,"y":-0.12},{"x":-0.47,"y":-0.3},{"x":-0.34,"y":-0.05},{"x":-0.21,"y":-0.22},{"x":-0.08,"y":-0.37},{"x":0.05,"y":-0.1},{"x":0.18,"y":-0.28},{"x":0.3,"y":-0.02},{"x":0.42,"y":-0.2},{"x":0.54,"y":-0.36},{"x":0.66,"y":-0.08},{"x":0.78,"y":-0.26},{"x":0.9,"y":-0.12},{"x":1.03,"y":-0.32},{"x":1.17,"y":-0.04},{"x":1.32,"y":-0.2},{"x":1.5,"y":-0.35},{"x":0.25,"y":-0.15},{"x":-0.4,"y":-0.18},
{"x":-1.3,"y":-0.55},{"x":-1.12,"y":-0.72},{"x":-0.96,"y":-0.46},{"x":-0.82,"y":-0.64},{"x":-0.68,"y":-0.78},{"x":-0.55,"y":-0.5},{"x":-0.42,"y":-0.68},{"x":-0.28,"y":-0.44},{"x":-0.15,"y":-0.6},{"x":-0.02,"y":-0.76},{"x":0.11,"y":-0.48},{"x":0.23,"y":-0.66},{"x":0.35,"y":-0.42},{"x":0.47,"y":-0.58},{"x":0.59,"y":-0.74},{"x":0.71,"y":-0.5},{"x":0.83,"y":-0.66},{"x":0.96,"y":-0.44},{"x":1.09,"y":-0.62},{"x":1.24,"y":-0.78},{"x":1.4,"y":-0.52},{"x":0.4,"y":-0.78},
{"x":-1.15,"y":-0.95},{"x":-0.95,"y":-1.1},{"x":-0.78,"y":-0.86},{"x":-0.62,"y":-1.02},{"x":-0.47,"y":-1.16},{"x":-0.33,"y":-0.9},{"x":-0.19,"y":-1.06},{"x":-0.05,"y":-0.84},{"x":0.08,"y":-1.0},{"x":0.21,"y":-1.14},{"x":0.34,"y":-0.88},{"x":0.46,"y":-1.04},{"x":0.59,"y":-0.92},{"x":0.72,"y":-1.12},{"x":0.85,"y":-0.86},{"x":0.98,"y":-1.02},{"x":1.12,"y":-1.18},{"x":1.28,"y":-0.9},
{"x":-0.9,"y":-1.35},{"x":-0.68,"y":-1.5},{"x":-0.48,"y":-1.28},{"x":-0.3,"y":-1.42},{"x":-0.12,"y":-1.25},{"x":0.05,"y":-1.5},{"x":0.22,"y":-1.32},{"x":0.38,"y":-1.46},{"x":0.55,"y":-1.26},{"x":0.72,"y":-1.45},{"x":0.9,"y":-1.32},{"x":1.1,"y":-1.5},
{"x":-0.9,"y":1.42},{"x":-0.55,"y":1.5},{"x":-0.22,"y":1.4},{"x":0.1,"y":1.5},{"x":0.38,"y":1.42},{"x":0.64,"y":1.25},{"x":0.78,"y":1.45},{"x":1.05,"y":1.4},
{"x":-1.2,"y":0.98},{"x":-0.86,"y":0.92},{"x":-0.57,"y":0.96},{"x":-0.43,"y":1.15},{"x":-0.15,"y":1.05},{"x":0.0,"y":0.98},{"x":0.12,"y":0.92},{"x":0.37,"y":1.05},{"x":0.5,"y":0.96},{"x":0.63,"y":1.0},{"x":0.88,"y":0.9},{"x":1.15,"y":0.96},{"x":1.3,"y":1.12},
{"x":-1.3,"y":0.6},{"x":-0.99,"y":0.58},{"x":-0.72,"y":0.6},{"x":-0.58,"y":0.66},{"x":-0.32,"y":0.56},{"x":-0.06,"y":0.52},{"x":0.06,"y":0.64},{"x":0.18,"y":0.56},{"x":0.42,"y":0.58},{"x":0.54,"y":0.64},{"x":0.66,"y":0.5},{"x":0.78,"y":0.56},{"x":1.03,"y":0.63},{"x":1.17,"y":0.45},{"x":1.32,"y":0.7},
{"x":-1.2,"y":0.18},{"x":-1.04,"y":0.24},{"x":-0.9,"y":0.07},{"x":-0.76,"y":0.2},{"x":-0.5,"y":0.26},{"x":-0.38,"y":0.06},{"x":-0.25,"y":0.18},{"x":-0.11,"y":0.32},{"x":0.02,"y":0.12},{"x":0.27,"y":0.18},{"x":0.39,"y":0.32},{"x":0.51,"y":0.14},{"x":0.63,"y":0.26},{"x":0.75,"y":0.06},{"x":0.87,"y":0.2},{"x":1.0,"y":0.32},{"x":1.13,"y":0.12},{"x":1.27,"y":0.25},
{"x":-1.1,"y":-0.2},{"x":-0.95,"y":-0.3},{"x":-0.81,"y":-0.12},{"x":-0.67,"y":-0.22},{"x":-0.54,"y":-0.08},{"x":-0.27,"y":-0.32},{"x":-0.14,"y":-0.12},{"x":-0.02,"y":-0.22},{"x":0.12,"y":-0.36},{"x":0.24,"y":-0.26},{"x":0.36,"y":-0.1},{"x":0.48,"y":-0.28},{"x":0.6,"y":-0.18},{"x":0.72,"y":-0.34},{"x":0.84,"y":-0.05},{"x":0.97,"y":-0.2},{"x":1.1,"y":-0.26},{"x":1.25,"y":-0.12},
{"x":-1.2,"y":-0.62},{"x":-0.89,"y":-0.55},{"x":-0.75,"y":-0.66},{"x":-0.62,"y":-0.6},{"x":-0.48,"y":-0.52},{"x":-0.35,"y":-0.58},{"x":-0.22,"y":-0.72},{"x":-0.08,"y":-0.5},{"x":0.05,"y":-0.62},{"x":0.17,"y":-0.56},{"x":0.29,"y":-0.74},{"x":0.41,"y":-0.5},{"x":0.53,"y":-0.66},{"x":0.65,"y":-0.6},{"x":0.77,"y":-0.74},{"x":0.9,"y":-0.55},{"x":1.02,"y":-0.7},{"x":1.16,"y":-0.5},
{"x":-1.05,"y":-1.02},{"x":-0.86,"y":-0.96},{"x":-0.7,"y":-1.12},{"x":-0.55,"y":-0.94},{"x":-0.4,"y":-1.05},{"x":-0.26,"y":-0.98},{"x":-0.12,"y":-1.14},{"x":0.02,"y":-0.92},{"x":0.14,"y":-1.06},{"x":0.28,"y":-1.0},{"x":0.4,"y":-1.12},{"x":0.52,"y":-0.98},{"x":0.66,"y":-1.02},{"x":0.79,"y":-0.96},{"x":0.92,"y":-1.1},{"x":1.05,"y":-0.92},
{"x":-0.8,"y":-1.25},{"x":-0.58,"y":-1.4},{"x":-0.4,"y":-1.35},{"x":-0.2,"y":-1.48},{"x":-0.04,"y":-1.38},{"x":0.13,"y":-1.42},{"x":0.3,"y":-1.28},{"x":0.46,"y":-1.38},{"x":0.64,"y":-1.34},{"x":0.8,"y":-1.45}
  ],
  "la": [{"x":-4.87,"y":0.62},{"x":4.87,"y":-0.63}],
  "lb": [{"x":-4.86,"y":0.58},{"x":4.86,"y":-0.61}],
  "lc": [{"x":-5.4,"y":-0.41},{"x":5.42,"y":0.45}]
},
"hconcat": [
  {
    "title": {"text": "a"},
    "width": 292, "height": 292,
    "layer": [
      {"data": {"name": "a"}, "mark": {"type": "square", "size": 16, "color": "#22366f", "opacity": 1},
       "encoding": {
         "x": {"field": "x", "type": "quantitative", "scale": {"domain": [-4.87, 4.87], "nice": false, "zero": false}, "axis": {"values": [-4, -2, 0, 2, 4], "title": "ICA2 weights (z–score)"}},
         "y": {"field": "y", "type": "quantitative", "scale": {"domain": [-5.4, 5.4], "nice": false, "zero": false}, "axis": {"values": [-4, -2, 0, 2, 4], "title": "Cortical thickness factor F6 (z–score)"}}}},
      {"data": {"name": "la"}, "mark": {"type": "line", "color": "black", "strokeWidth": 1.3},
       "encoding": {"x": {"field": "x", "type": "quantitative", "scale": {"domain": [-4.87, 4.87], "nice": false, "zero": false}}, "y": {"field": "y", "type": "quantitative", "scale": {"domain": [-5.4, 5.4], "nice": false, "zero": false}}}},
      {"data": {"values": [{}]}, "mark": {"type": "text", "text": "P", "fontStyle": "italic"}, "encoding": {"x": {"datum": 1.89}, "y": {"datum": 4.71}}},
      {"data": {"values": [{}]}, "mark": {"type": "text", "text": "= 0.00314", "dx": 13}, "encoding": {"x": {"datum": 1.89}, "y": {"datum": 4.71}}},
      {"data": {"values": [{}]}, "mark": {"type": "text", "text": "r", "fontStyle": "italic"}, "encoding": {"x": {"datum": 1.89}, "y": {"datum": 4.04}}},
      {"data": {"values": [{}]}, "mark": {"type": "text", "text": "2", "fontSize": 10, "dx": 3.5, "dy": -7}, "encoding": {"x": {"datum": 1.89}, "y": {"datum": 4.04}}},
      {"data": {"values": [{}]}, "mark": {"type": "text", "text": "= 1.7%", "dx": 9}, "encoding": {"x": {"datum": 1.89}, "y": {"datum": 4.04}}}
    ]
  },
  {
    "title": {"text": "b"},
    "width": 292, "height": 292,
    "layer": [
      {"data": {"name": "b"}, "mark": {"type": "square", "size": 16, "color": "#22366f", "opacity": 1},
       "encoding": {
         "x": {"field": "x", "type": "quantitative", "scale": {"domain": [-4.86, 4.86], "nice": false, "zero": false}, "axis": {"values": [-4, -2, 0, 2, 4], "title": "ICA2 weights (z–score)"}},
         "y": {"field": "y", "type": "quantitative", "scale": {"domain": [-4.33, 4.33], "nice": false, "zero": false}, "axis": {"values": [-4, -2, 0, 2, 4], "title": "EM performance (z–score)"}}}},
      {"data": {"name": "lb"}, "mark": {"type": "line", "color": "black", "strokeWidth": 1.3},
       "encoding": {"x": {"field": "x", "type": "quantitative", "scale": {"domain": [-4.86, 4.86], "nice": false, "zero": false}}, "y": {"field": "y", "type": "quantitative", "scale": {"domain": [-4.33, 4.33], "nice": false, "zero": false}}}},
      {"data": {"values": [{}]}, "mark": {"type": "text", "text": "P", "fontStyle": "italic"}, "encoding": {"x": {"datum": 1.86}, "y": {"datum": 3.8}}},
      {"data": {"values": [{}]}, "mark": {"type": "text", "text": "= 0.00491", "dx": 13}, "encoding": {"x": {"datum": 1.86}, "y": {"datum": 3.8}}},
      {"data": {"values": [{}]}, "mark": {"type": "text", "text": "r", "fontStyle": "italic"}, "encoding": {"x": {"datum": 1.86}, "y": {"datum": 3.26}}},
      {"data": {"values": [{}]}, "mark": {"type": "text", "text": "2", "fontSize": 10, "dx": 3.5, "dy": -7}, "encoding": {"x": {"datum": 1.86}, "y": {"datum": 3.26}}},
      {"data": {"values": [{}]}, "mark": {"type": "text", "text": "= 1.5%", "dx": 9}, "encoding": {"x": {"datum": 1.86}, "y": {"datum": 3.26}}}
    ]
  },
  {
    "title": {"text": "c"},
    "width": 292, "height": 292,
    "layer": [
      {"data": {"name": "cg"}, "mark": {"type": "square", "size": 16, "color": "#b4b4b4", "opacity": 1},
       "encoding": {
         "x": {"field": "x", "type": "quantitative", "scale": {"domain": [-5.4, 5.42], "nice": false, "zero": false}, "axis": {"values": [-4, -2, 0, 2, 4], "title": "Cortical thickness factor F6 (z–score)"}},
         "y": {"field": "y", "type": "quantitative", "scale": {"domain": [-4.33, 4.33], "nice": false, "zero": false}, "axis": {"values": [-4, -2, 0, 2, 4], "title": "EM performance (z–score)"}}}},
      {"data": {"name": "cn"}, "mark": {"type": "square", "size": 16, "color": "#22366f", "opacity": 1},
       "encoding": {
         "x": {"field": "x", "type": "quantitative", "scale": {"domain": [-5.4, 5.42], "nice": false, "zero": false}},
         "y": {"field": "y", "type": "quantitative", "scale": {"domain": [-4.33, 4.33], "nice": false, "zero": false}}}},
      {"data": {"name": "lc"}, "mark": {"type": "line", "color": "black", "strokeWidth": 1.3},
       "encoding": {"x": {"field": "x", "type": "quantitative", "scale": {"domain": [-5.4, 5.42], "nice": false, "zero": false}}, "y": {"field": "y", "type": "quantitative", "scale": {"domain": [-4.33, 4.33], "nice": false, "zero": false}}}},
      {"data": {"values": [{}]}, "mark": {"type": "text", "text": "P", "fontStyle": "italic"}, "encoding": {"x": {"datum": 2.04}, "y": {"datum": 3.81}}},
      {"data": {"values": [{}]}, "mark": {"type": "text", "text": "= 0.00574", "dx": 13}, "encoding": {"x": {"datum": 2.04}, "y": {"datum": 3.81}}},
      {"data": {"values": [{}]}, "mark": {"type": "text", "text": "r", "fontStyle": "italic"}, "encoding": {"x": {"datum": 2.04}, "y": {"datum": 3.26}}},
      {"data": {"values": [{}]}, "mark": {"type": "text", "text": "2", "fontSize": 10, "dx": 3.5, "dy": -7}, "encoding": {"x": {"datum": 2.04}, "y": {"datum": 3.26}}},
      {"data": {"values": [{}]}, "mark": {"type": "text", "text": "= 0.6%", "dx": 9}, "encoding": {"x": {"datum": 2.04}, "y": {"datum": 3.26}}}
    ]
  }
]
}
